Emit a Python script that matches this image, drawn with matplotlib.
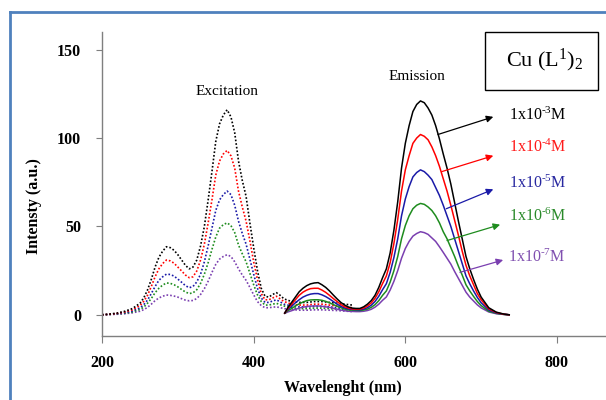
import matplotlib
matplotlib.use('Agg')
import matplotlib.pyplot as plt
from matplotlib.lines import Line2D
from matplotlib.patches import Rectangle

plt.rcParams['font.family'] = 'Liberation Serif'
plt.rcParams['mathtext.fontset'] = 'custom'
plt.rcParams['mathtext.rm'] = 'Liberation Serif'
plt.rcParams['mathtext.it'] = 'Liberation Serif:italic'
plt.rcParams['mathtext.bf'] = 'Liberation Serif:bold'

# Excitation spectra (dotted)
exc_nm = [200, 210, 220, 230, 240,
          250, 255, 260, 265, 270, 275, 280, 285, 290, 295,
          300, 305, 310, 315, 320, 325, 330, 335, 340, 345,
          350, 355, 360, 365, 370, 375, 380, 385, 390, 395,
          400, 405, 410, 415, 420, 425, 430, 435, 440,
          450, 460, 470, 480, 490, 500, 510, 520, 530]
exc_e3 = [0, 0.4, 1, 2, 3.5,
          6.5, 9.5, 14, 20, 27, 32.5, 36, 38.5, 38, 36.5,
          34, 31, 28, 26, 27, 31, 39, 50, 65, 81,
          98, 108, 113, 116, 112, 103, 87, 76, 67, 52,
          38, 25, 15, 10.5, 10, 11.5, 12.5, 11, 9,
          7.5, 7, 7, 7.5, 7.5, 7, 6.5, 6, 5.5]
exc_e4 = [0, 0.3, 0.8, 1.6, 2.8,
          5.2, 7.6, 11, 16, 21.5, 26, 29, 31, 30.5, 29.2,
          27, 24.8, 22.5, 21, 21.5, 24.8, 31, 40, 52, 65,
          79, 87, 91, 93, 90, 83, 70, 61, 53, 42,
          30, 20, 12, 8.5, 8.5, 9.5, 10.5, 9, 7.5,
          6, 5.5, 5.5, 6, 6, 5.5, 5, 4.5, 4]
exc_e5 = [0, 0.25, 0.6, 1.2, 2.1,
          3.9, 5.7, 8.3, 12, 16, 19.5, 21.5, 23, 22.8, 21.9,
          20.2, 18.4, 16.5, 15.3, 16, 18.6, 23, 30, 39, 49,
          59, 65, 68, 70, 68, 62, 53, 46, 40, 31.5,
          23, 15, 9.5, 7, 7, 7.8, 8.5, 7.3, 6,
          5, 4.5, 4.5, 4.8, 4.8, 4.5, 4, 3.5, 3]
exc_e6 = [0, 0.2, 0.5, 0.9, 1.6,
          3, 4.3, 6.5, 9.2, 12.5, 15, 16.8, 18, 17.8, 17,
          15.8, 14.3, 12.9, 12, 12.4, 14.2, 17.8, 23, 29.5, 37,
          44, 49, 51, 52, 50.5, 46.5, 39.5, 34.5, 30, 23.5,
          17, 11.3, 7.5, 5.5, 5.5, 6, 6.5, 5.7, 5,
          4, 3.5, 3.5, 3.8, 3.8, 3.5, 3.2, 2.8, 2.5]
exc_e7 = [0, 0.15, 0.3, 0.6, 1.1,
          2, 2.9, 4.2, 6, 8, 9.5, 10.5, 11.2, 11, 10.6,
          10, 9.1, 8.3, 7.9, 8.1, 9.2, 11.5, 14.8, 19, 24,
          28.5, 31.5, 33, 34, 33, 30, 26, 22.5, 19.5, 15.5,
          11.3, 7.5, 5.2, 4, 4, 4.3, 4.5, 4, 3.5,
          3, 2.6, 2.6, 2.8, 2.8, 2.6, 2.4, 2.1, 1.8]

# Emission spectra (solid)
emi_nm = [441,
          445, 450, 455, 460, 465, 470, 475, 480, 485, 490,
          495, 500, 505, 510, 515, 520, 525, 530, 535, 540,
          545, 550, 555, 560, 565, 570, 575, 580, 585, 590,
          595, 600, 605, 610, 615, 620, 625, 630, 635, 640,
          645, 650, 655, 660, 665, 670, 675, 680, 685, 690,
          695, 700, 710, 720, 730, 737]
emi_e3 = [1,
          4, 7, 10, 13, 15, 16.5, 17.5, 18, 18.2, 17,
          15.5, 13.5, 11.2, 9, 7, 5.5, 4.4, 3.8, 3.6, 3.6,
          4.5, 6, 8, 11, 15.5, 21, 26, 35, 48, 64,
          83, 97, 107, 115, 119, 121, 120, 117, 113, 107,
          99.5, 91, 83, 74, 63.5, 53, 43, 33, 26, 20,
          14.5, 10, 4, 1.5, 0.4, 0]
emi_e4 = [1,
          3.5, 6, 8.5, 11, 12.8, 14, 14.8, 15, 15, 14,
          12.7, 11, 9.2, 7.5, 5.8, 4.6, 3.8, 3.3, 3.2, 3.2,
          3.8, 5, 6.7, 9.3, 13, 17.7, 22, 29.5, 40.5, 54,
          70, 82, 90, 97, 100, 102, 101, 99, 95, 90,
          84, 77, 70, 62, 53.5, 45, 36, 28, 22, 17,
          12, 8.5, 3.4, 1.3, 0.3, 0]
emi_e5 = [1,
          3, 4.8, 6.8, 8.5, 10, 11, 11.7, 12, 12, 11.3,
          10.3, 9, 7.5, 6, 4.8, 3.8, 3.3, 3, 2.9, 2.8,
          3.2, 4, 5.4, 7.5, 10.5, 14.2, 17.6, 24, 32.5, 43,
          56, 65.5, 72.5, 78, 80.5, 82, 81, 79, 76.5, 72,
          67.5, 62, 56, 50, 43, 36, 29, 22, 17.5, 13.5,
          9.8, 6.8, 2.7, 1, 0.3, 0]
emi_e6 = [0.9,
          2.3, 3.5, 5, 6.2, 7.2, 8, 8.4, 8.5, 8.5, 8.2,
          7.6, 6.8, 5.8, 4.8, 4, 3.2, 2.8, 2.6, 2.5, 2.4,
          2.7, 3.2, 4.2, 5.7, 8, 11, 13.5, 18.5, 25, 33,
          43, 50.5, 56, 60, 62, 63, 62.5, 61, 59, 56,
          52, 47, 43, 38, 33, 27.5, 22.5, 17, 13.5, 10.4,
          7.5, 5.2, 2, 0.8, 0.2, 0]
emi_e7 = [0.8,
          1.6, 2.3, 3.1, 3.8, 4.3, 4.7, 4.9, 5, 5, 4.8,
          4.5, 4.2, 3.7, 3.2, 2.7, 2.3, 2.0, 1.9, 1.8, 1.8,
          2, 2.4, 3.1, 4.3, 6, 8.2, 10.1, 14, 19, 25,
          32, 37.5, 41.5, 44.5, 46, 47, 46.5, 45.5, 43.5, 41.5,
          38.5, 35.3, 32, 28.7, 24.5, 20.6, 16.7, 12.8, 10, 7.8,
          5.6, 3.9, 1.6, 0.6, 0.2, 0]

conc_labels = ['1x10$^{\\mathregular{\u20103}}$M', '1x10$^{\\mathregular{\u20104}}$M',
               '1x10$^{\\mathregular{\u20105}}$M', '1x10$^{\\mathregular{\u20106}}$M',
               '1x10$^{\\mathregular{\u20107}}$M']
colors = ['#000000', '#ff0000', '#1a1aa8', '#1e8c1e', '#7a3fb0']
label_colors = ['#000000', '#ff1a1a', '#2828a0', '#2a8a2a', '#8050b0']

# arrow start (on curve), arrow tip, label position (data coords)
arrow_from = [(643, 102), (648, 81), (654, 60), (655, 42), (672, 24)]
arrow_to = [(716, 112), (716, 90), (716, 71), (725, 51), (729, 31)]
label_pos = [(737, 113), (737, 94.5), (737, 74.5), (737, 55.5), (735, 32.5)]

fig = plt.figure(figsize=(6.06, 4.0), dpi=100)
ax = fig.add_axes([102 / 606, 0.16, 1 - 102 / 606, 0.76])

exc = [exc_e3, exc_e4, exc_e5, exc_e6, exc_e7]
emi = [emi_e3, emi_e4, emi_e5, emi_e6, emi_e7]
for i in range(4, -1, -1):
    ax.plot(exc_nm, exc[i], color=colors[i], ls=(0, (1, 1.2)), lw=1.2)
for i in range(4, -1, -1):
    ax.plot(emi_nm, emi[i], color=colors[i], lw=1.1)

for i in range(5):
    ax.annotate('', xy=arrow_to[i], xytext=arrow_from[i],
                arrowprops=dict(arrowstyle='-|>', color=colors[i], lw=0.9,
                                mutation_scale=10, shrinkA=0, shrinkB=0))
    ax.text(label_pos[i][0], label_pos[i][1], conc_labels[i], color=label_colors[i],
            fontsize=11.5, va='center', ha='left')

ax.text(365, 126.5, 'Excitation', fontsize=11, ha='center', va='center')
ax.text(616, 135, 'Emission', fontsize=11, ha='center', va='center')

ax.set_xlim(200, 200 + (606 - 102) / 0.7583)
ax.set_ylim(-12, 160)
ax.set_xticks([200, 400, 600, 800])
ax.set_yticks([0, 50, 100, 150])
for s in ['top', 'right']:
    ax.spines[s].set_visible(False)
for s in ['left', 'bottom']:
    ax.spines[s].set_color('#7f7f7f')
    ax.spines[s].set_linewidth(1.0)
ax.tick_params(axis='y', direction='out', length=4, color='#7f7f7f', pad=11, labelsize=11.5)
ax.tick_params(axis='x', direction='out', length=5, color='#7f7f7f', pad=9, labelsize=11.5)
for lab in ax.get_xticklabels() + ax.get_yticklabels():
    lab.set_fontweight('bold')

fig.text(34 / 606, 1 - 206 / 400, 'Intensty (a.u.)', rotation=90, fontsize=11.5,
         fontweight='bold', ha='center', va='center')
fig.text(343 / 606, 1 - 388 / 400, 'Wavelenght (nm)', fontsize=11.5,
         fontweight='bold', ha='center', va='center')

# compound name box
fig.patches.append(Rectangle((485 / 606, 1 - 90 / 400), 113 / 606, 58 / 400,
                             transform=fig.transFigure, fill=False, ec='black', lw=1.0))
fig.text(545 / 606, 1 - 60 / 400, r'Cu (L$^{\mathregular{1}}$)$_{\mathregular{2}}$',
         fontsize=16, ha='center', va='center')

# outer blue frame
fig.lines.append(Line2D([10 / 606, 10 / 606], [0, 1 - 12 / 400], transform=fig.transFigure,
                        color='#4f81bd', lw=2))
fig.lines.append(Line2D([10 / 606, 1], [1 - 12 / 400, 1 - 12 / 400], transform=fig.transFigure,
                        color='#4f81bd', lw=2))

fig.savefig('out.png', dpi=100)
